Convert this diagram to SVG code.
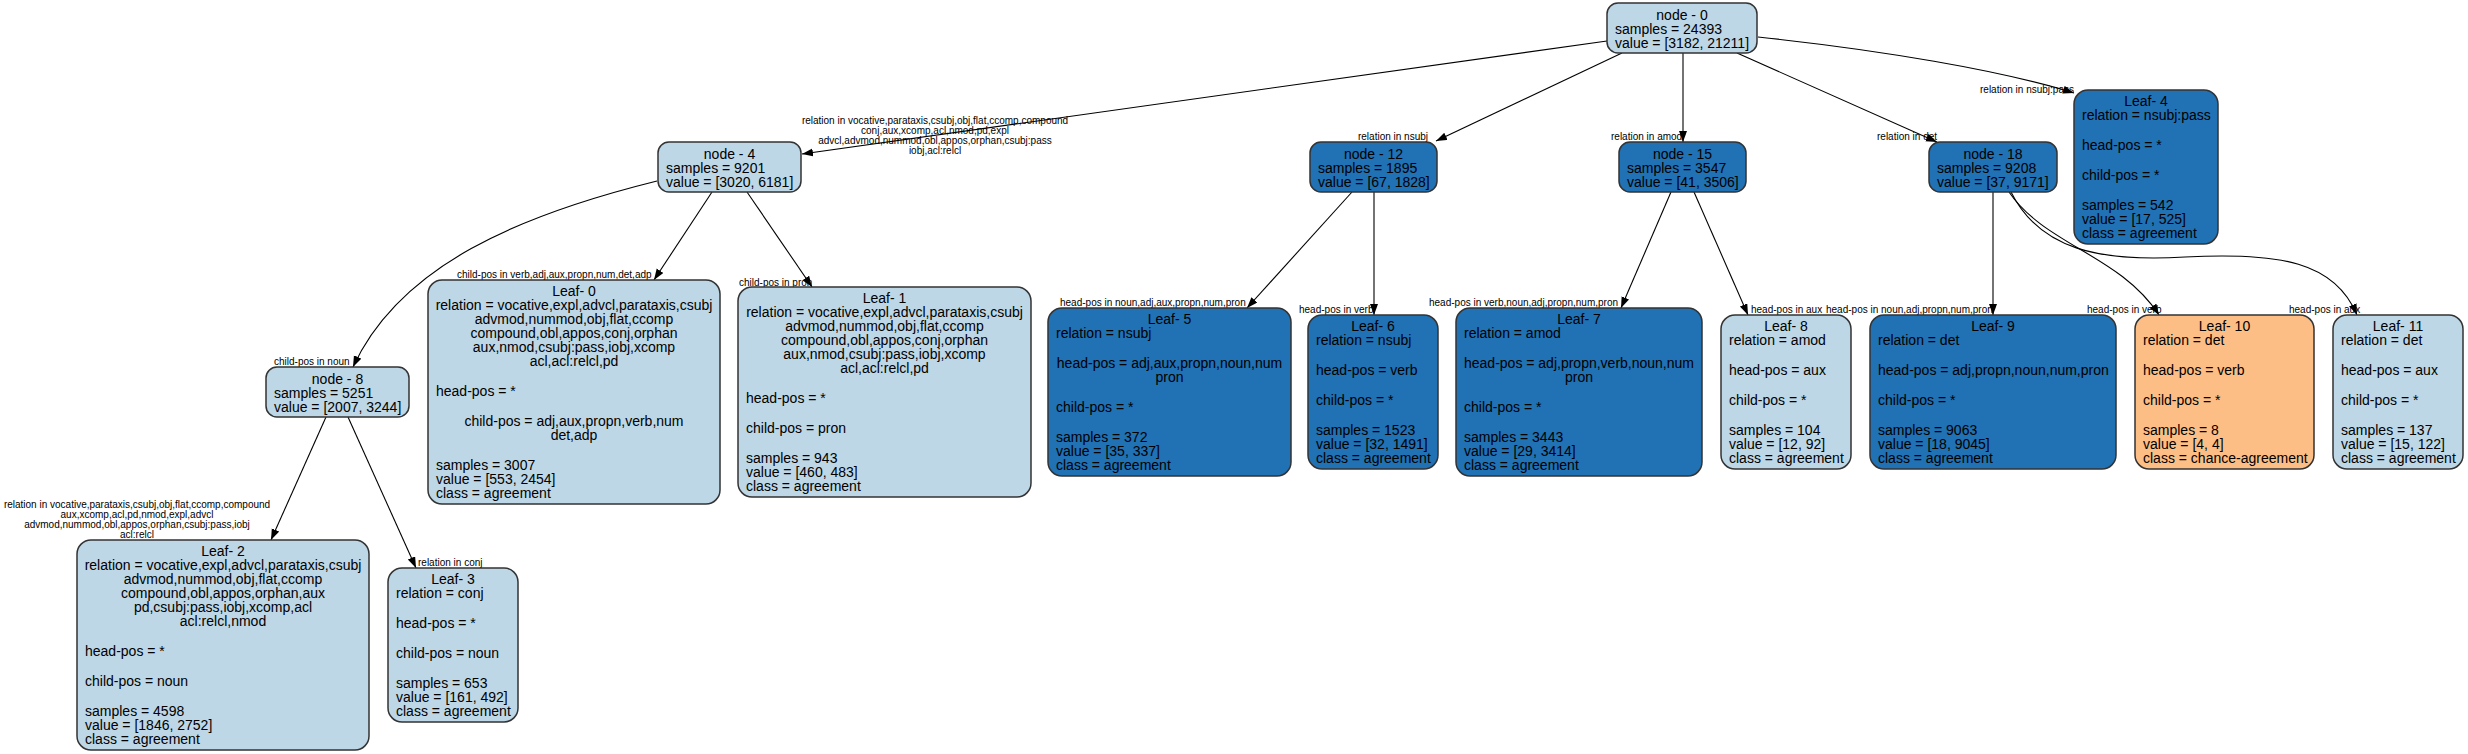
<svg xmlns="http://www.w3.org/2000/svg" width="2468" height="754" viewBox="0 0 2468 754">
<defs>
<style>
text{font-family:"Liberation Sans",Arial,Helvetica,sans-serif;fill:#000}
.t{font-size:14px}
.c{text-anchor:middle}
.r{text-anchor:end}
.el{font-size:10px}
.box{stroke:#333;stroke-width:1.5}
.lt{fill:#bdd7e7}
.dk{fill:#2171b5}
.or{fill:#fdbe85}
.e{fill:none;stroke:#000;stroke-width:1.1;marker-end:url(#ah)}
</style>
<marker id="ah" markerUnits="userSpaceOnUse" markerWidth="12" markerHeight="9" refX="11" refY="4" orient="auto">
<path d="M0,0 L11,4 L0,8 Z" fill="#000"/>
</marker>
</defs>
<rect width="2468" height="754" fill="#fff"/>

<g id="connectors">
<path class="e" d="M1607,41 L802,154"/>
<path class="e" d="M1622,53 L1436,141"/>
<path class="e" d="M1683,53 L1683,142"/>
<path class="e" d="M1737,53 L1937,142"/>
<path class="e" d="M1758,37 C1880,50 2000,70 2074,93"/>
<path class="e" d="M657,181 C520,215 400,265 353,367"/>
<path class="e" d="M712,192 L654,280"/>
<path class="e" d="M747,192 L812,287"/>
<path class="e" d="M326,417 L271,540"/>
<path class="e" d="M348,417 L416,568"/>
<path class="e" d="M1352,192 L1247,308"/>
<path class="e" d="M1374,192 L1374,315"/>
<path class="e" d="M1671,192 L1621,308"/>
<path class="e" d="M1694,192 L1748,315"/>
<path class="e" d="M1993,192 L1993,315"/>
<path class="e" d="M2009,192 C2045,245 2120,255 2159,315"/>
<path class="e" d="M2011,192 C2040,250 2100,262 2185,257 C2280,252 2335,262 2357,315"/>
<g id="edge-labels">
<text class="el c" x="935" y="124.2">relation in vocative,parataxis,csubj,obj,flat,ccomp,compound</text>
<text class="el c" x="935" y="134.2">conj,aux,xcomp,acl,nmod,pd,expl</text>
<text class="el c" x="935" y="144.2">advcl,advmod,nummod,obl,appos,orphan,csubj:pass</text>
<text class="el c" x="935" y="154.2">iobj,acl:relcl</text>
<text class="el r" x="1428" y="140">relation in nsubj</text>
<text class="el" x="1611" y="140">relation in amod</text>
<text class="el" x="1877" y="140">relation in det</text>
<text class="el" x="1980" y="93">relation in nsubj:pass</text>
<text class="el" x="457" y="278">child-pos in verb,adj,aux,propn,num,det,adp</text>
<text class="el" x="739" y="285.5">child-pos in pron</text>
<text class="el" x="274" y="365">child-pos in noun</text>
<text class="el c" x="137" y="508">relation in vocative,parataxis,csubj,obj,flat,ccomp,compound</text>
<text class="el c" x="137" y="518">aux,xcomp,acl,pd,nmod,expl,advcl</text>
<text class="el c" x="137" y="528">advmod,nummod,obl,appos,orphan,csubj:pass,iobj</text>
<text class="el c" x="137" y="538">acl:relcl</text>
<text class="el" x="418" y="566">relation in conj</text>
<text class="el" x="1060" y="306">head-pos in noun,adj,aux,propn,num,pron</text>
<text class="el" x="1299" y="313">head-pos in verb</text>
<text class="el" x="1429" y="306">head-pos in verb,noun,adj,propn,num,pron</text>
<text class="el" x="1751" y="313">head-pos in aux</text>
<text class="el" x="1826" y="313">head-pos in noun,adj,propn,num,pron</text>
<text class="el" x="2087" y="313">head-pos in verb</text>
<text class="el" x="2289" y="313">head-pos in aux</text>
</g>
</g>

<g id="node-0">
<rect class="box lt" x="1607" y="3" width="150" height="50" rx="11"/>
<text class="t c" x="1682" y="19.5">node - 0</text>
<text class="t" x="1615" y="33.5">samples = 24393</text>
<text class="t" x="1615" y="47.5">value = [3182, 21211]</text>
</g>

<g id="node-4">
<rect class="box lt" x="658" y="142" width="143" height="50" rx="11"/>
<text class="t c" x="729.5" y="158.5">node - 4</text>
<text class="t" x="666" y="172.5">samples = 9201</text>
<text class="t" x="666" y="186.5">value = [3020, 6181]</text>
</g>

<g id="node-12">
<rect class="box dk" x="1310" y="142" width="127" height="50" rx="11"/>
<text class="t c" x="1373.5" y="158.5">node - 12</text>
<text class="t" x="1318" y="172.5">samples = 1895</text>
<text class="t" x="1318" y="186.5">value = [67, 1828]</text>
</g>

<g id="node-15">
<rect class="box dk" x="1619" y="142" width="127" height="50" rx="11"/>
<text class="t c" x="1682.5" y="158.5">node - 15</text>
<text class="t" x="1627" y="172.5">samples = 3547</text>
<text class="t" x="1627" y="186.5">value = [41, 3506]</text>
</g>

<g id="node-18">
<rect class="box dk" x="1929" y="142" width="128" height="50" rx="11"/>
<text class="t c" x="1993" y="158.5">node - 18</text>
<text class="t" x="1937" y="172.5">samples = 9208</text>
<text class="t" x="1937" y="186.5">value = [37, 9171]</text>
</g>

<g id="node-8">
<rect class="box lt" x="266" y="367" width="143" height="50" rx="11"/>
<text class="t c" x="337.5" y="383.5">node - 8</text>
<text class="t" x="274" y="397.5">samples = 5251</text>
<text class="t" x="274" y="411.5">value = [2007, 3244]</text>
</g>

<g id="leaf-4">
<rect class="box dk" x="2074" y="90" width="144" height="154" rx="14"/>
<text class="t c" x="2146" y="106.3">Leaf- 4</text>
<text class="t" x="2082" y="120.3">relation = nsubj:pass</text>
<text class="t" x="2082" y="150.3">head-pos = *</text>
<text class="t" x="2082" y="180.3">child-pos = *</text>
<text class="t" x="2082" y="210.3">samples = 542</text>
<text class="t" x="2082" y="224.3">value = [17, 525]</text>
<text class="t" x="2082" y="238.3">class = agreement</text>
</g>

<g id="leaf-0">
<rect class="box lt" x="428" y="280" width="292" height="224" rx="14"/>
<text class="t c" x="574" y="296.3">Leaf- 0</text>
<text class="t c" x="574" y="310.3">relation = vocative,expl,advcl,parataxis,csubj</text>
<text class="t c" x="574" y="324.3">advmod,nummod,obj,flat,ccomp</text>
<text class="t c" x="574" y="338.3">compound,obl,appos,conj,orphan</text>
<text class="t c" x="574" y="352.3">aux,nmod,csubj:pass,iobj,xcomp</text>
<text class="t c" x="574" y="366.3">acl,acl:relcl,pd</text>
<text class="t" x="436" y="396.3">head-pos = *</text>
<text class="t c" x="574" y="426.3">child-pos = adj,aux,propn,verb,num</text>
<text class="t c" x="574" y="440.3">det,adp</text>
<text class="t" x="436" y="470.3">samples = 3007</text>
<text class="t" x="436" y="484.3">value = [553, 2454]</text>
<text class="t" x="436" y="498.3">class = agreement</text>
</g>

<g id="leaf-1">
<rect class="box lt" x="738" y="287" width="293" height="210" rx="14"/>
<text class="t c" x="884.5" y="303.3">Leaf- 1</text>
<text class="t c" x="884.5" y="317.3">relation = vocative,expl,advcl,parataxis,csubj</text>
<text class="t c" x="884.5" y="331.3">advmod,nummod,obj,flat,ccomp</text>
<text class="t c" x="884.5" y="345.3">compound,obl,appos,conj,orphan</text>
<text class="t c" x="884.5" y="359.3">aux,nmod,csubj:pass,iobj,xcomp</text>
<text class="t c" x="884.5" y="373.3">acl,acl:relcl,pd</text>
<text class="t" x="746" y="403.3">head-pos = *</text>
<text class="t" x="746" y="433.3">child-pos = pron</text>
<text class="t" x="746" y="463.3">samples = 943</text>
<text class="t" x="746" y="477.3">value = [460, 483]</text>
<text class="t" x="746" y="491.3">class = agreement</text>
</g>

<g id="leaf-2">
<rect class="box lt" x="77" y="540" width="292" height="210" rx="14"/>
<text class="t c" x="223" y="556.3">Leaf- 2</text>
<text class="t c" x="223" y="570.3">relation = vocative,expl,advcl,parataxis,csubj</text>
<text class="t c" x="223" y="584.3">advmod,nummod,obj,flat,ccomp</text>
<text class="t c" x="223" y="598.3">compound,obl,appos,orphan,aux</text>
<text class="t c" x="223" y="612.3">pd,csubj:pass,iobj,xcomp,acl</text>
<text class="t c" x="223" y="626.3">acl:relcl,nmod</text>
<text class="t" x="85" y="656.3">head-pos = *</text>
<text class="t" x="85" y="686.3">child-pos = noun</text>
<text class="t" x="85" y="716.3">samples = 4598</text>
<text class="t" x="85" y="730.3">value = [1846, 2752]</text>
<text class="t" x="85" y="744.3">class = agreement</text>
</g>

<g id="leaf-3">
<rect class="box lt" x="388" y="568" width="130" height="154" rx="14"/>
<text class="t c" x="453" y="584.3">Leaf- 3</text>
<text class="t" x="396" y="598.3">relation = conj</text>
<text class="t" x="396" y="628.3">head-pos = *</text>
<text class="t" x="396" y="658.3">child-pos = noun</text>
<text class="t" x="396" y="688.3">samples = 653</text>
<text class="t" x="396" y="702.3">value = [161, 492]</text>
<text class="t" x="396" y="716.3">class = agreement</text>
</g>

<g id="leaf-5">
<rect class="box dk" x="1048" y="308" width="243" height="168" rx="14"/>
<text class="t c" x="1169.5" y="324.3">Leaf- 5</text>
<text class="t" x="1056" y="338.3">relation = nsubj</text>
<text class="t c" x="1169.5" y="368.3">head-pos = adj,aux,propn,noun,num</text>
<text class="t c" x="1169.5" y="382.3">pron</text>
<text class="t" x="1056" y="412.3">child-pos = *</text>
<text class="t" x="1056" y="442.3">samples = 372</text>
<text class="t" x="1056" y="456.3">value = [35, 337]</text>
<text class="t" x="1056" y="470.3">class = agreement</text>
</g>

<g id="leaf-6">
<rect class="box dk" x="1308" y="315" width="130" height="154" rx="14"/>
<text class="t c" x="1373" y="331.3">Leaf- 6</text>
<text class="t" x="1316" y="345.3">relation = nsubj</text>
<text class="t" x="1316" y="375.3">head-pos = verb</text>
<text class="t" x="1316" y="405.3">child-pos = *</text>
<text class="t" x="1316" y="435.3">samples = 1523</text>
<text class="t" x="1316" y="449.3">value = [32, 1491]</text>
<text class="t" x="1316" y="463.3">class = agreement</text>
</g>

<g id="leaf-7">
<rect class="box dk" x="1456" y="308" width="246" height="168" rx="14"/>
<text class="t c" x="1579" y="324.3">Leaf- 7</text>
<text class="t" x="1464" y="338.3">relation = amod</text>
<text class="t c" x="1579" y="368.3">head-pos = adj,propn,verb,noun,num</text>
<text class="t c" x="1579" y="382.3">pron</text>
<text class="t" x="1464" y="412.3">child-pos = *</text>
<text class="t" x="1464" y="442.3">samples = 3443</text>
<text class="t" x="1464" y="456.3">value = [29, 3414]</text>
<text class="t" x="1464" y="470.3">class = agreement</text>
</g>

<g id="leaf-8">
<rect class="box lt" x="1721" y="315" width="130" height="154" rx="14"/>
<text class="t c" x="1786" y="331.3">Leaf- 8</text>
<text class="t" x="1729" y="345.3">relation = amod</text>
<text class="t" x="1729" y="375.3">head-pos = aux</text>
<text class="t" x="1729" y="405.3">child-pos = *</text>
<text class="t" x="1729" y="435.3">samples = 104</text>
<text class="t" x="1729" y="449.3">value = [12, 92]</text>
<text class="t" x="1729" y="463.3">class = agreement</text>
</g>

<g id="leaf-9">
<rect class="box dk" x="1870" y="315" width="246" height="154" rx="14"/>
<text class="t c" x="1993" y="331.3">Leaf- 9</text>
<text class="t" x="1878" y="345.3">relation = det</text>
<text class="t" x="1878" y="375.3">head-pos = adj,propn,noun,num,pron</text>
<text class="t" x="1878" y="405.3">child-pos = *</text>
<text class="t" x="1878" y="435.3">samples = 9063</text>
<text class="t" x="1878" y="449.3">value = [18, 9045]</text>
<text class="t" x="1878" y="463.3">class = agreement</text>
</g>

<g id="leaf-10">
<rect class="box or" x="2135" y="315" width="179" height="154" rx="14"/>
<text class="t c" x="2224.5" y="331.3">Leaf- 10</text>
<text class="t" x="2143" y="345.3">relation = det</text>
<text class="t" x="2143" y="375.3">head-pos = verb</text>
<text class="t" x="2143" y="405.3">child-pos = *</text>
<text class="t" x="2143" y="435.3">samples = 8</text>
<text class="t" x="2143" y="449.3">value = [4, 4]</text>
<text class="t" x="2143" y="463.3">class = chance-agreement</text>
</g>

<g id="leaf-11">
<rect class="box lt" x="2333" y="315" width="130" height="154" rx="14"/>
<text class="t c" x="2398" y="331.3">Leaf- 11</text>
<text class="t" x="2341" y="345.3">relation = det</text>
<text class="t" x="2341" y="375.3">head-pos = aux</text>
<text class="t" x="2341" y="405.3">child-pos = *</text>
<text class="t" x="2341" y="435.3">samples = 137</text>
<text class="t" x="2341" y="449.3">value = [15, 122]</text>
<text class="t" x="2341" y="463.3">class = agreement</text>
</g>
</svg>
